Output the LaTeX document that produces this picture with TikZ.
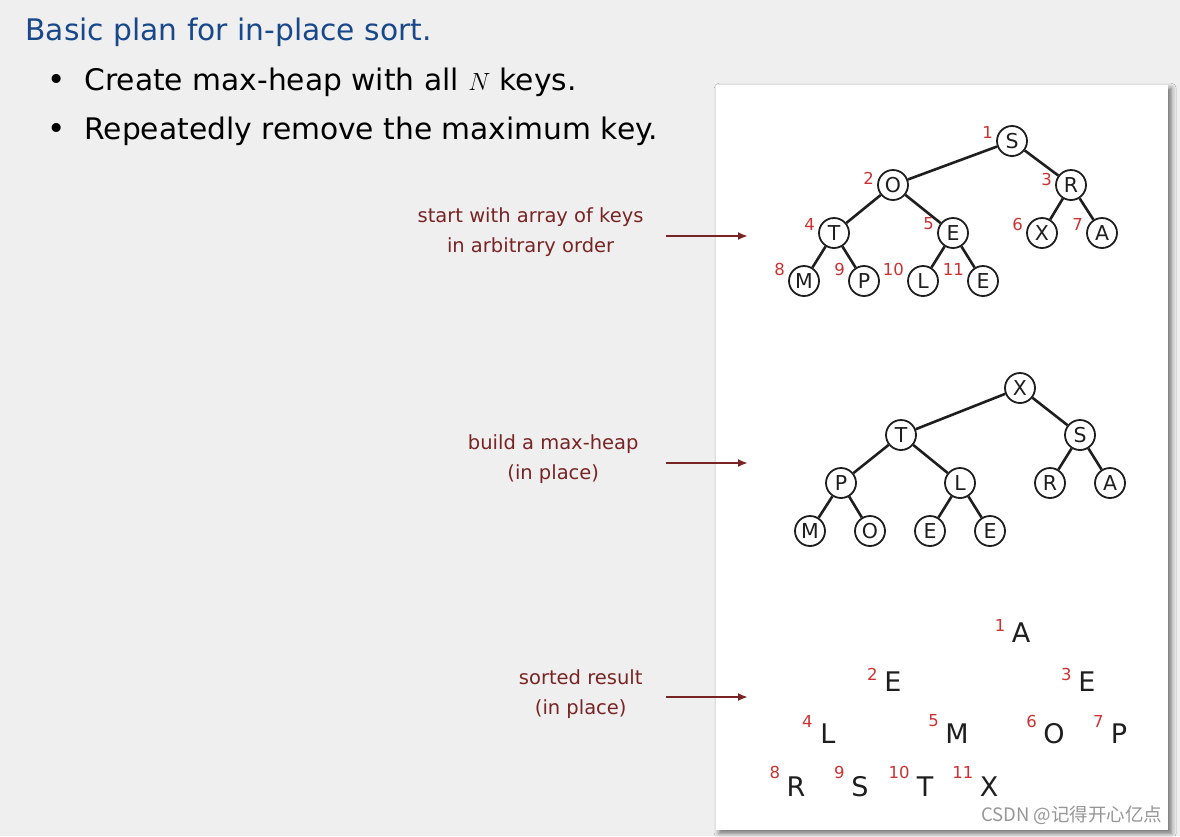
\documentclass[tikz,border=0pt]{standalone}
\usepackage{fontspec}
\setmainfont{DejaVu Sans}
\newfontfamily\cjkfont{Noto Sans CJK SC}
\usetikzlibrary{
  arrows.meta,
  calc,
  positioning,
  shadows.blur
}
\definecolor{slidegray}{RGB}{239,239,239}
\definecolor{titleblue}{RGB}{24,72,138}
\definecolor{notered}{RGB}{120,36,36}
\definecolor{indexred}{RGB}{205,50,50}
\definecolor{keyblack}{RGB}{30,30,30}
\definecolor{markgray}{RGB}{150,150,150}

\begin{document}
\begin{tikzpicture}[x=1pt, y=-1pt,
  key/.style={circle, draw=keyblack, line width=1.8pt, fill=white, inner sep=0pt,
        minimum size=30pt, font=\fontsize{20.5}{20.5}\selectfont, text=keyblack},
  plainkey/.style={inner sep=0pt, minimum width=18pt,
        font=\fontsize{27}{27}\selectfont, text=keyblack},
  idx/.style={inner sep=0pt, xshift=-3pt, yshift=9pt,
        font=\fontsize{16.5}{16.5}\selectfont, text=indexred},
  plainidx/.style={inner sep=0pt, xshift=-6pt, yshift=10pt,
        font=\fontsize{16.5}{16.5}\selectfont, text=indexred},
  link/.style={line width=2.6pt, draw=keyblack},
  note/.style={align=center, anchor=east, font=\fontsize{19.5}{30}\selectfont, text=notered},
  notearrow/.style={-{Latex[length=10pt,width=8pt]}, line width=2pt, draw=notered}]
  \useasboundingbox (0,0) rectangle (1180,836);
  \fill[slidegray] (0,0) rectangle (1180,836);

  % Slide text
  \node[anchor=base west, text=titleblue, font=\fontsize{29.7}{29.7}\selectfont]
        (title) at (22,40) {Basic plan for in-place sort.};
  \node[anchor=base, font=\fontsize{31}{31}\selectfont] (dot1) at (57,90) {\textbullet};
  \node[anchor=base west, font=\fontsize{29.7}{29.7}\selectfont]
        (bullet1) at (81,90) {Create max-heap with all $N$ keys.};
  \node[anchor=base, font=\fontsize{31}{31}\selectfont] (dot2) at (57,139) {\textbullet};
  \node[anchor=base west, font=\fontsize{29.7}{29.7}\selectfont]
        (bullet2) at (81,139) {Repeatedly remove the maximum key.};

  % White panel
  \node[fill=white, anchor=north west, minimum width=452pt, minimum height=745pt,
        blur shadow={shadow xshift=3pt, shadow yshift=-3pt, shadow blur radius=5pt,
        shadow opacity=55}] (panel) at (716,85) {};

  % Keys in arbitrary order
  \node[key, label={[idx]left:1}] (in1) at (1012,141) {S};
  \node[key, label={[idx,yshift=-2pt]left:2}] (in2) at (893,185) {O};
  \node[key, label={[idx,yshift=-3pt]left:3}] (in3) at (1071,185) {R};
  \node[key, label={[idx]left:4}] (in4) at (834,233) {T};
  \node[key, label={[idx]left:5}] (in5) at (953,233) {E};
  \node[key, label={[idx]left:6}] (in6) at (1042,233) {X};
  \node[key, label={[idx]left:7}] (in7) at (1102,233) {A};
  \node[key, label={[idx,yshift=3pt]left:8}] (in8) at (804,281) {M};
  \node[key, label={[idx,yshift=3pt]left:9}] (in9) at (864,281) {P};
  \node[key, label={[idx,yshift=3pt]left:10}] (in10) at (923,281) {L};
  \node[key, label={[idx,yshift=3pt]left:11}] (in11) at (983,281) {E};
  \draw[link] (in1) -- (in2);
  \draw[link] (in1) -- (in3);
  \draw[link] (in2) -- (in4);
  \draw[link] (in2) -- (in5);
  \draw[link] (in3) -- (in6);
  \draw[link] (in3) -- (in7);
  \draw[link] (in4) -- (in8);
  \draw[link] (in4) -- (in9);
  \draw[link] (in5) -- (in10);
  \draw[link] (in5) -- (in11);

  % Max-heap
  \node[key] (heap1) at (1020,388) {X};
  \node[key] (heap2) at (901,435) {T};
  \node[key] (heap3) at (1080,435) {S};
  \node[key] (heap4) at (841,483) {P};
  \node[key] (heap5) at (960,483) {L};
  \node[key] (heap6) at (1050,483) {R};
  \node[key] (heap7) at (1110,483) {A};
  \node[key] (heap8) at (810,531) {M};
  \node[key] (heap9) at (870,531) {O};
  \node[key] (heap10) at (930,531) {E};
  \node[key] (heap11) at (990,531) {E};
  \draw[link] (heap1) -- (heap2);
  \draw[link] (heap1) -- (heap3);
  \draw[link] (heap2) -- (heap4);
  \draw[link] (heap2) -- (heap5);
  \draw[link] (heap3) -- (heap6);
  \draw[link] (heap3) -- (heap7);
  \draw[link] (heap4) -- (heap8);
  \draw[link] (heap4) -- (heap9);
  \draw[link] (heap5) -- (heap10);
  \draw[link] (heap5) -- (heap11);

  % Sorted result
  \node[plainkey, label={[plainidx,yshift=-2pt]left:1}] (out1) at (1021,633) {A};
  \node[plainkey, label={[plainidx,yshift=-2pt]left:2}] (out2) at (893,682) {E};
  \node[plainkey, label={[plainidx,yshift=-2pt]left:3}] (out3) at (1087,682) {E};
  \node[plainkey, label={[plainidx,yshift=3pt]left:4}] (out4) at (828,734) {L};
  \node[plainkey, label={[plainidx,yshift=3pt]left:5}] (out5) at (957,734) {M};
  \node[plainkey, label={[plainidx,yshift=3pt]left:6}] (out6) at (1054,734) {O};
  \node[plainkey, label={[plainidx,yshift=3pt]left:7}] (out7) at (1119,734) {P};
  \node[plainkey, label={[plainidx,yshift=5pt]left:8}] (out8) at (796,787) {R};
  \node[plainkey, label={[plainidx,yshift=5pt]left:9}] (out9) at (860,787) {S};
  \node[plainkey, label={[plainidx,yshift=5pt]left:10}] (out10) at (925,787) {T};
  \node[plainkey, label={[plainidx,yshift=5pt]left:11}] (out11) at (989,787) {X};

  % Notes and arrows
  \coordinate (tip1) at (748,236);
  \coordinate (tip2) at (748,463);
  \coordinate (tip3) at (748,697);
  \node[note] (note1) at (647,232) {start with array of keys\\in arbitrary order};
  \node[note] (note2) at (642,459) {build a max-heap\\(in place)};
  \node[note] (note3) at (646,694) {sorted result\\(in place)};
  \draw[notearrow] ([xshift=19pt]note1.east |- tip1) -- (tip1);
  \draw[notearrow] ([xshift=24pt]note2.east |- tip2) -- (tip2);
  \draw[notearrow] ([xshift=20pt]note3.east |- tip3) -- (tip3);

  % Watermark
  \node[anchor=east, text=markgray, font=\cjkfont\fontsize{18.5}{18.5}\selectfont]
        (mark) at (1166,815) {CSDN @记得开心亿点};
\end{tikzpicture}
\end{document}
